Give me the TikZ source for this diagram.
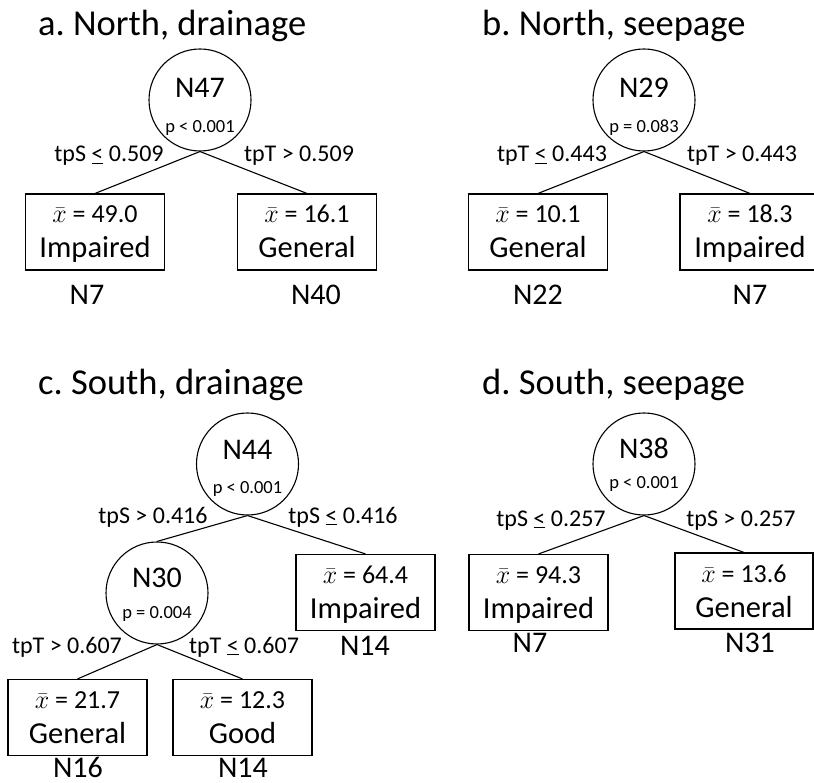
\documentclass[tikz,border=0pt]{standalone}
\usepackage{fix-cm}
\usepackage{fontspec}
\setmainfont{Carlito}
\frenchspacing
\newcommand{\leaftext}[2]{{\fontsize{26}{30}\selectfont\rule{0pt}{26pt}$\bar{x}$ = #1}\\#2\rule[-9pt]{0pt}{9pt}}
\tikzset{
 split/.style={draw, circle, line width=1.1pt, minimum size=102pt, inner sep=0pt},
 leaf/.style={draw, rectangle, line width=1.1pt, minimum width=139pt, minimum height=76pt, inner sep=0pt,
   align=center, font=\fontsize{30.5}{35}\selectfont},
 conn/.style={line width=1.1pt},
 ttl/.style={anchor=base west, inner sep=0pt, font=\fontsize{36.5}{40}\selectfont},
 nid/.style={anchor=base, inner sep=0pt, font=\fontsize{30}{34}\selectfont},
 pval/.style={anchor=base, inner sep=0pt, font=\fontsize{18.5}{22}\selectfont},
 cond/.style={anchor=base, inner sep=0pt, font=\fontsize{24}{28}\selectfont},
 cnt/.style={anchor=base, inner sep=0pt, font=\fontsize{30}{34}\selectfont},
}
\begin{document}
\begin{tikzpicture}[x=1pt,y=-1pt]
\useasboundingbox (0,0) rectangle (814,783);
\clip (0,0) rectangle (814,783);

% ---------- panel a ----------
\node[ttl] (ta) at (38,36) {a. North, drainage};
\node[split] (a0) at (200,100) {};
\node[nid] (a0n) at (200,98) {N47};
\node[pval] (a0p) at (200,133) {p < 0.001};
\node[leaf] (a1) at (95,232) {\leaftext{49.0}{Impaired}};
\node[leaf] (a2) at (307,232) {\leaftext{16.1}{General}};
\draw[conn] (a0.south) -- (a1.north);
\draw[conn] (a0.south) -- (a2.north);
\node[cond] (a1c) at (109,162) {tpS \underline{<} 0.509};
\node[cond] (a2c) at (299,162) {tpT > 0.509};
\node[cnt] (a1n) at (87,305) {N7};
\node[cnt] (a2n) at (316,305) {N40};

% ---------- panel b ----------
\node[ttl] (tb) at (482,36) {b. North, seepage};
\node[split] (b0) at (644,100) {};
\node[nid] (b0n) at (644,98) {N29};
\node[pval] (b0p) at (644,133) {p = 0.083};
\node[leaf] (b1) at (538,232) {\leaftext{10.1}{General}};
\node[leaf, minimum width=140pt] (b2) at (750,232) {\leaftext{18.3}{Impaired}};
\draw[conn] (b0.south) -- (b1.north);
\draw[conn] (b0.south) -- (b2.north);
\node[cond] (b1c) at (552,162) {tpT \underline{<} 0.443};
\node[cond] (b2c) at (742,162) {tpT > 0.443};
\node[cnt] (b1n) at (538,305) {N22};
\node[cnt] (b2n) at (750,305) {N7};

% ---------- panel c ----------
\node[ttl] (tc) at (38,395) {c. South, drainage};
\node[split] (c0) at (247.5,464) {};
\node[nid] (c0n) at (247.5,459) {N44};
\node[pval] (c0p) at (247.5,493) {p < 0.001};
\node[split] (c1) at (157,593) {};
\node[nid] (c1n) at (157,587) {N30};
\node[pval] (c1p) at (157,618) {p = 0.004};
\node[leaf] (c2) at (365.5,592.5) {\leaftext{64.4}{Impaired}};
\node[leaf] (c3) at (77.5,717.5) {\leaftext{21.7}{General}};
\node[leaf] (c4) at (242.5,717.5) {\leaftext{12.3}{Good}};
\draw[conn] (c0.south) -- (c1.north);
\draw[conn] (c0.south) -- (c2.north);
\draw[conn] (c1.south) -- (c3.north);
\draw[conn] (c1.south) -- (c4.north);
\node[cond] (c1c) at (153,523) {tpS > 0.416};
\node[cond] (c2c) at (343,523) {tpS \underline{<} 0.416};
\node[cond] (c3c) at (67,653) {tpT > 0.607};
\node[cond] (c4c) at (244,653) {tpT \underline{<} 0.607};
\node[cnt] (c2n) at (365,655) {N14};
\node[cnt] (c3n) at (78,777) {N16};
\node[cnt] (c4n) at (243,777) {N14};

% ---------- panel d ----------
\node[ttl] (td) at (482,395) {d. South, seepage};
\node[split] (d0) at (644,464) {};
\node[nid] (d0n) at (644,458) {N38};
\node[pval] (d0p) at (644,488) {p < 0.001};
\node[leaf] (d1) at (538.5,592.5) {\leaftext{94.3}{Impaired}};
\node[leaf, minimum width=138pt] (d2) at (744,591) {\leaftext{13.6}{General}};
\draw[conn] (d0.south) -- (d1.north);
\draw[conn] (d0.south) -- (d2.north);
\node[cond] (d1c) at (551,526) {tpS \underline{<} 0.257};
\node[cond] (d2c) at (741,526) {tpS > 0.257};
\node[cnt] (d1n) at (530,652) {N7};
\node[cnt] (d2n) at (750,652) {N31};
\end{tikzpicture}
\end{document}
